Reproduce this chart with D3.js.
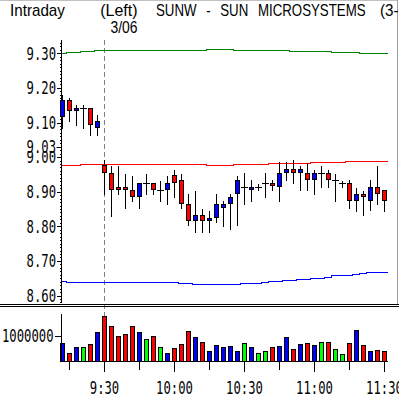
<!DOCTYPE html>
<html>
<head>
<meta charset="utf-8">
<script src="https://cdn.jsdelivr.net/npm/d3@7"></script>
<style>
    html, body { margin: 0; padding: 0; background: #fff; }
    #chart-area { width: 399px; height: 397px; overflow: hidden; }
    svg { display: block; }
</style>
</head>
<body>
<div id="chart-area"></div>
<script>

// 3-minute bars, minutes from the 9:30 open (first six bars are from the previous session)
let barTimes = d3.range(-18, 121, 3);

let opens  = [9.118, 9.164, 9.137, 9.143, 9.143, 9.088, 8.976, 8.955, 8.914, 8.914,
              8.906, 8.889, 8.926, 8.926, 8.906, 8.909, 8.947, 8.935, 8.865, 8.817,
              8.834, 8.817, 8.828, 8.857, 8.868, 8.897, 8.915, 8.909, 8.915, 8.926,
              8.926, 8.916, 8.957, 8.967, 8.957, 8.955, 8.938, 8.955, 8.955, 8.935,
              8.926, 8.926, 8.877, 8.894, 8.877, 8.913, 8.906];
let highs  = [9.183, 9.175, 9.154, 9.154, 9.143, 9.126, 8.995, 8.976, 8.976, 8.955,
              8.947, 8.926, 8.955, 8.926, 8.935, 8.947, 8.967, 8.955, 8.896, 8.906,
              8.854, 8.846, 8.896, 8.875, 8.896, 8.947, 8.957, 8.936, 8.926, 8.956,
              8.937, 8.988, 8.988, 8.995, 8.976, 8.986, 8.967, 8.976, 8.967, 8.955,
              8.935, 8.936, 8.915, 8.906, 8.936, 8.976, 8.906];
let lows   = [9.085, 9.104, 9.094, 9.084, 9.065, 9.064, 8.894, 8.831, 8.892, 8.852,
              8.873, 8.852, 8.892, 8.892, 8.873, 8.865, 8.884, 8.852, 8.804, 8.783,
              8.783, 8.783, 8.812, 8.802, 8.793, 8.804, 8.865, 8.873, 8.906, 8.884,
              8.906, 8.873, 8.935, 8.926, 8.906, 8.906, 8.894, 8.913, 8.913, 8.873,
              8.913, 8.852, 8.844, 8.833, 8.846, 8.865, 8.844];
let closes = [9.164, 9.137, 9.143, 9.143, 9.097, 9.105, 8.957, 8.909, 8.909, 8.909,
              8.889, 8.926, 8.926, 8.909, 8.906, 8.926, 8.928, 8.868, 8.817, 8.833,
              8.817, 8.825, 8.865, 8.865, 8.884, 8.935, 8.915, 8.915, 8.915, 8.926,
              8.918, 8.955, 8.967, 8.957, 8.967, 8.938, 8.955, 8.955, 8.938, 8.935,
              8.926, 8.877, 8.894, 8.888, 8.913, 8.897, 8.877];
let volumes = [716000, 330000, 560000, 580000, 680000, 1140000, 1770000, 1380000, 990000, 1070000,
               1380000, 1140000, 870000, 990000, 560000, 330000, 530000, 680000, 1180000, 950000,
               790000, 440000, 640000, 560000, 600000, 440000, 750000, 560000, 330000, 440000,
               560000, 600000, 950000, 520000, 680000, 750000, 640000, 790000, 790000, 520000,
               290000, 720000, 1220000, 640000, 440000, 480000, 440000];

// band lines, one value per bar
let upperBand = [9.300, 9.303, 9.303, 9.306, 9.306, 9.309, 9.309, 9.309, 9.309, 9.309,
                 9.309, 9.309, 9.309, 9.309, 9.309, 9.309, 9.309, 9.309, 9.309, 9.309,
                 9.309, 9.312, 9.312, 9.312, 9.312, 9.309, 9.309, 9.309, 9.309, 9.309,
                 9.309, 9.309, 9.309, 9.306, 9.306, 9.306, 9.306, 9.306, 9.306, 9.303,
                 9.303, 9.303, 9.303, 9.300, 9.300, 9.300, 9.300];
let midBand   = [8.977, 8.977, 8.977, 8.980, 8.980, 8.980, 8.980, 8.980, 8.980, 8.980,
                 8.980, 8.980, 8.980, 8.980, 8.980, 8.980, 8.980, 8.980, 8.980, 8.980,
                 8.980, 8.977, 8.977, 8.977, 8.977, 8.980, 8.980, 8.980, 8.980, 8.980,
                 8.982, 8.983, 8.983, 8.983, 8.983, 8.983, 8.986, 8.986, 8.986, 8.986,
                 8.986, 8.988, 8.988, 8.989, 8.989, 8.989, 8.989];
let lowerBand = [8.641, 8.638, 8.638, 8.638, 8.638, 8.638, 8.638, 8.638, 8.638, 8.638,
                 8.638, 8.638, 8.638, 8.638, 8.638, 8.638, 8.638, 8.635, 8.635, 8.632,
                 8.632, 8.632, 8.632, 8.632, 8.632, 8.632, 8.635, 8.635, 8.635, 8.638,
                 8.641, 8.641, 8.644, 8.644, 8.647, 8.647, 8.650, 8.650, 8.653, 8.658,
                 8.658, 8.658, 8.661, 8.664, 8.667, 8.667, 8.667];

// axis ticks
let priceTicks = [8.6, 8.7, 8.8, 8.9, 9.0, 9.1, 9.2, 9.3];
let prevClose = 9.03;
let volumeTicks = [1000000];
let timeTicks = [0, 30, 60, 90, 120];
let timeLabels = ["9:30", "10:00", "10:30", "11:00", "11:30"];
let quarterTicks = [-15, 15, 45, 75, 105];
let dayLabel = "3/06";

let bars = barTimes.map((t, i) => ({
    t: t, open: opens[i], high: highs[i], low: lows[i], close: closes[i], volume: volumes[i]
}));

const W = 399, H = 397;
const axisX = 61.5;
const fontMono = "'DejaVu Sans Mono', 'Liberation Mono', monospace";
const fontSans = "'Liberation Sans', Arial, sans-serif";

let svg = d3.select("#chart-area").append("svg")
    .attr("width", W)
    .attr("height", H);

svg.append("rect").attr("width", W).attr("height", H).attr("fill", "#fff");

let x = d3.scaleLinear().domain([-18, 120]).range([62.7, 384.3]);
let y = d3.scaleLinear().domain([8.60, 9.30]).range([295.5, 53.3]);
let yVol = d3.scaleLinear().domain([0, 1850000]).range([362, 314]);

// pixel snapping
let px = v => Math.floor(v) + 0.5;
let py = v => Math.round(v) + 0.5;

function barColor(d) {
    if (d.close > d.open) return "#0000ff";
    if (d.close < d.open) return "#ff0000";
    return "#00ff00";
}

// squeezed text, the original uses a tall narrow bitmap font
function label(g, str, tx, ty, sx, size, family, anchor) {
    return g.append("text")
        .attr("transform", `translate(${tx},${ty}) scale(${sx},1)`)
        .attr("text-anchor", anchor || "start")
        .attr("font-family", family)
        .attr("font-size", size)
        .attr("fill", "#000")
        .text(str);
}

// frame
svg.append("line").attr("x1", 0).attr("x2", 397).attr("y1", 0.5).attr("y2", 0.5)
    .attr("stroke", "#c0c0c0");
svg.append("line").attr("x1", 397.5).attr("x2", 397.5).attr("y1", 0).attr("y2", 304)
    .attr("stroke", "#a0a0a0");

// day separator
svg.append("line")
    .attr("x1", px(x(0))).attr("x2", px(x(0)))
    .attr("y1", 40).attr("y2", 362)
    .attr("stroke", "#808080")
    .attr("stroke-dasharray", "5,3");

// band lines
svg.append("clipPath").attr("id", "plot-clip")
    .append("rect").attr("x", 62).attr("y", 38).attr("width", 336).attr("height", 266);

let stepLine = d3.line()
    .x(d => x(d[0]))
    .y(d => py(y(d[1])))
    .curve(d3.curveStepAfter);

[[upperBand, "#008000"], [midBand, "#ff0000"], [lowerBand, "#0000ff"]].forEach(([vals, col]) => {
    let pts = barTimes.map((t, i) => [t - 1.5, vals[i]]);
    pts.push([barTimes[barTimes.length - 1] + 1.5, vals[vals.length - 1]]);
    svg.append("path")
        .attr("clip-path", "url(#plot-clip)")
        .attr("d", stepLine(pts))
        .attr("fill", "none")
        .attr("stroke", col)
        .attr("stroke-width", 1)
        .attr("shape-rendering", "crispEdges");
});

// price axis
let minorTicks = d3.range(858, 934).map(v => v / 100);
svg.append("g")
    .attr("transform", `translate(${axisX},0)`)
    .attr("shape-rendering", "crispEdges")
    .call(d3.axisLeft(y).tickValues(minorTicks).tickSize(2).tickFormat(""))
    .call(g => g.select(".domain").remove());

let priceAxis = svg.append("g")
    .attr("transform", `translate(${axisX},0)`)
    .attr("shape-rendering", "crispEdges")
    .call(d3.axisLeft(y).tickValues(priceTicks).tickSize(5).tickFormat(d3.format(".2f")))
    .call(g => g.select(".domain").remove());
priceAxis.selectAll(".tick line").attr("stroke", "#000");
priceAxis.selectAll("text")
    .attr("x", 0)
    .attr("transform", "translate(-5.5,0) scale(0.68,1)")
    .attr("font-family", fontMono)
    .attr("font-size", 18)
    .attr("fill", "#000");

svg.append("line")
    .attr("x1", axisX).attr("x2", axisX).attr("y1", 40).attr("y2", 302)
    .attr("stroke", "#000");

// previous close label, drawn over its neighbour
let pc = svg.append("g").attr("transform", `translate(${axisX},${py(y(prevClose)) - 0.5})`);
pc.append("rect").attr("x", -44).attr("y", -9).attr("width", 38).attr("height", 13).attr("fill", "#fff");
pc.append("line").attr("x1", -5).attr("x2", 0).attr("y1", 0.5).attr("y2", 0.5).attr("stroke", "#000");
label(pc, d3.format(".2f")(prevClose), -5.5, 0, 0.68, 18, fontMono, "end").attr("dy", "0.32em");

// candles
let candles = svg.append("g").attr("shape-rendering", "crispEdges");
bars.forEach(d => {
    let cx = px(x(d.t));
    let g = candles.append("g");
    g.append("line")
        .attr("x1", cx).attr("x2", cx)
        .attr("y1", py(y(d.high))).attr("y2", py(y(d.low)))
        .attr("stroke", "#000");
    if (d.open === d.close) {
        g.append("line")
            .attr("x1", cx - 3.5).attr("x2", cx + 3.5)
            .attr("y1", py(y(d.open))).attr("y2", py(y(d.open)))
            .attr("stroke", "#000");
    } else {
        let top = Math.round(y(Math.max(d.open, d.close)));
        let bot = Math.round(y(Math.min(d.open, d.close)));
        g.append("rect")
            .attr("x", cx - 2).attr("width", 4)
            .attr("y", top + 0.5).attr("height", Math.max(bot - top, 1))
            .attr("fill", barColor(d))
            .attr("stroke", "#000");
    }
});

// panel separator
[304.5, 306.5].forEach(v => {
    svg.append("line").attr("x1", 0).attr("x2", W).attr("y1", v).attr("y2", v)
        .attr("stroke", "#000");
});

// volume bars
svg.append("g")
    .attr("shape-rendering", "crispEdges")
    .selectAll("rect")
    .data(bars)
    .join("rect")
    .attr("x", d => px(x(d.t)) - 2)
    .attr("width", 4)
    .attr("y", d => py(yVol(d.volume)))
    .attr("height", d => 361.5 - py(yVol(d.volume)))
    .attr("fill", d => barColor(d))
    .attr("stroke", "#000");

// volume axis
let volAxis = svg.append("g")
    .attr("transform", `translate(${axisX},0)`)
    .attr("shape-rendering", "crispEdges")
    .call(d3.axisLeft(yVol).tickValues(volumeTicks).tickSize(7).tickFormat(d3.format("d")))
    .call(g => g.select(".domain").remove());
volAxis.selectAll(".tick line").attr("stroke", "#000");
volAxis.selectAll("text")
    .attr("x", 0)
    .attr("transform", "translate(-8,0) scale(0.68,1)")
    .attr("font-family", fontMono)
    .attr("font-size", 18)
    .attr("fill", "#000");

svg.append("line")
    .attr("x1", axisX).attr("x2", axisX).attr("y1", 314).attr("y2", 362)
    .attr("stroke", "#000");
svg.append("line")
    .attr("x1", axisX).attr("x2", 388).attr("y1", 361.5).attr("y2", 361.5)
    .attr("stroke", "#000");

// time axis
let timeX = t => px(x(t));
let tAxis = svg.append("g").attr("shape-rendering", "crispEdges");
quarterTicks.forEach(t => {
    tAxis.append("line").attr("x1", timeX(t)).attr("x2", timeX(t))
        .attr("y1", 362).attr("y2", 370).attr("stroke", "#000");
});
timeTicks.forEach((t, i) => {
    tAxis.append("line").attr("x1", timeX(t)).attr("x2", timeX(t))
        .attr("y1", 362).attr("y2", 372).attr("stroke", "#000");
    label(tAxis, timeLabels[i], timeX(t), 394, 0.68, 18, fontMono, "middle");
});

// header
label(svg, "Intraday", 10, 16, 0.95, 16, fontSans);
label(svg, "(Left)", 137.5, 16, 1.0, 16, fontSans, "end");
label(svg, dayLabel, 137.5, 32.5, 0.87, 16, fontSans, "end");
label(svg, "SUNW - SUN MICROSYSTEMS", 156, 16, 0.83, 16, fontSans)
    .attr("word-spacing", 7.2);
label(svg, "(3-Minute)", 380, 16, 0.95, 16, fontSans);

</script>
</body>
</html>
